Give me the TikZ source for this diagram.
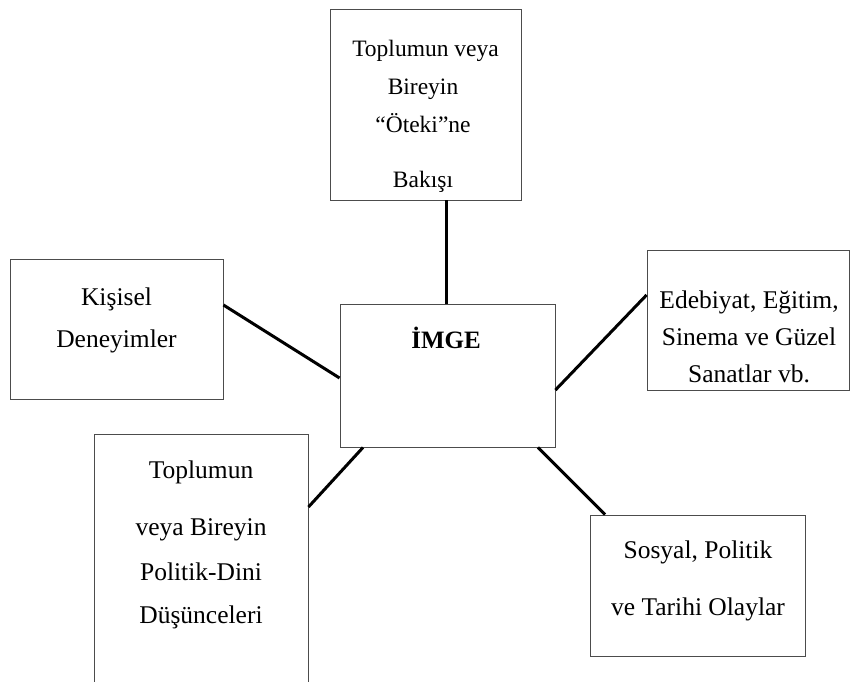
\documentclass[tikz,border=0pt]{standalone}
\usepackage{fontspec}
\setmainfont{Liberation Serif}
\begin{document}
\begin{tikzpicture}[x=1pt,y=-1pt,
  box/.style={draw=black!70,line width=0.9pt,fill=none,inner sep=0pt,rectangle},
  conn/.style={line width=3pt,black},
  txt/.style={anchor=base,inner sep=0pt,font=\fontsize{25.5}{30}\selectfont},
  txts/.style={anchor=base,inner sep=0pt,font=\fontsize{23.5}{28}\selectfont},
  ttl/.style={anchor=base,inner sep=0pt,font=\fontsize{25}{30}\selectfont\bfseries}]
\useasboundingbox[fill=white] (0,0) rectangle (851,682);
% boxes
\node[box,minimum width=191pt,minimum height=191pt] (top) at (425.5,104.5) {};
\node[box,minimum width=213pt,minimum height=140pt] (kis) at (116.5,329) {};
\node[box,minimum width=215pt,minimum height=143pt] (imge) at (447.5,375.5) {};
\node[box,minimum width=202pt,minimum height=140pt] (ede) at (748,320) {};
\node[box,minimum width=214pt,minimum height=256pt] (pol) at (201,562) {};
\node[box,minimum width=215pt,minimum height=141pt] (sos) at (697.5,585.5) {};
% texts
\node[txts] (t1) at (425.5,57) {Toplumun veya};
\node[txts] (t2) at (423,95) {Bireyin};
\node[txts] (t3) at (423,133) {“Öteki”ne};
\node[txts] (t4) at (423,187) {Bakışı};
\node[txt] (k1) at (116.5,305) {Kişisel};
\node[txt] (k2) at (116.5,347) {Deneyimler};
\node[ttl] (i1) at (446,348) {İMGE};
\node[txt] (e1) at (749,308) {Edebiyat, Eğitim,};
\node[txt] (e2) at (749,345) {Sinema ve Güzel};
\node[txt] (e3) at (749,382) {Sanatlar vb.};
\node[txt] (p1) at (201,478) {Toplumun};
\node[txt] (p2) at (201,535) {veya Bireyin};
\node[txt] (p3) at (201,580) {Politik-Dini};
\node[txt] (p4) at (201,623) {Düşünceleri};
\node[txt] (s1) at (698,558) {Sosyal, Politik};
\node[txt] (s2) at (698,615) {ve Tarihi Olaylar};
% connectors
\draw[conn] ([xshift=-1.5pt]imge.north) -- ([xshift=-1.5pt]imge.north |- top.south);
\draw[conn] ([yshift=24pt]kis.east) -- ([yshift=-2.5pt]imge.west);
\draw[conn] ([yshift=-14.5pt]imge.east) -- ([yshift=25pt]ede.west);
\draw[conn] ([xshift=-84.5pt]imge.south) -- ([yshift=55pt]pol.east);
\draw[conn] ([xshift=90.5pt]imge.south) -- ([xshift=-92.5pt]sos.north);
\end{tikzpicture}
\end{document}
